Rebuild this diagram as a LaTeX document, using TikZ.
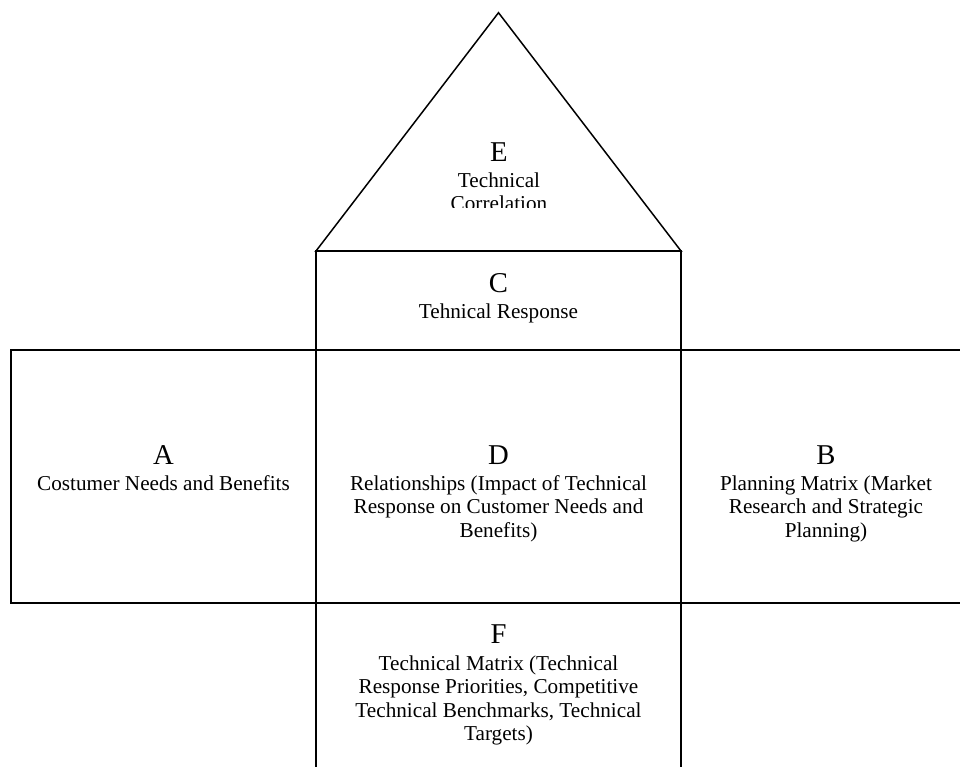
\documentclass[tikz,border=0pt]{standalone}
\usepackage{fontspec}
\setmainfont{Liberation Serif}
\newcommand\hqdesc[1]{\begin{tabular}[t]{@{}c@{}}#1\end{tabular}}
\tikzset{
  frame/.style={draw=black, line width=1.8pt},
  roof/.style={draw=black, line width=1.5pt, line join=miter},
  letter/.style={anchor=base, inner sep=0pt, font=\fontsize{28.7}{30}\selectfont},
  label/.style={anchor=base, inner sep=0pt, font=\fontsize{21.2}{23.5}\selectfont},
}
\begin{document}
\begin{tikzpicture}[x=1pt, y=-1pt]
\useasboundingbox (0,0) rectangle (960,767);
\fill[white] (0,0) rectangle (960,767);
\begin{scope}
\clip (0,0) rectangle (960,767);
% named corners
\coordinate (apex) at (498.5,12.7);
\coordinate (cl) at (316,251);
\coordinate (cr) at (681,251);
% roof E
\draw[roof] (apex) -- (cl) -- (cr) -- cycle;
% boxes
\draw[frame] (cl) rectangle (681,350);
\draw[frame] (11,350) rectangle (316,603);
\draw[frame] (316,350) rectangle (681,603);
\draw[frame] (681,350) rectangle (972,603);
\draw[frame] (316,603) rectangle (681,790);
\end{scope}
% E text (clipped text box)
\node[letter] (eL) at (499,162) {E};
\begin{scope}
\clip (330,100) rectangle (670,207.5);
\node[label] (eT) at (499,187.5) {\hqdesc{Technical\\Correlation}};
\end{scope}
% C
\node[letter] (cL) at (498.5,292) {C};
\node[label] (cT) at (498.5,318.5) {Tehnical Response};
% A
\node[letter] (aL) at (163.5,464) {A};
\node[label] (aT) at (163.5,490) {\hqdesc{Costumer Needs and Benefits}};
% D
\node[letter] (dL) at (498.5,464) {D};
\node[label] (dT) at (498.5,490) {\hqdesc{Relationships (Impact of Technical\\Response on Customer Needs and\\Benefits)}};
% B
\node[letter] (bL) at (826,464) {B};
\node[label] (bT) at (826,490) {\hqdesc{Planning Matrix (Market\\Research and Strategic\\Planning)}};
% F
\node[letter] (fL) at (498.5,643) {F};
\node[label] (fT) at (498.5,670) {\hqdesc{Technical Matrix (Technical\\Response Priorities, Competitive\\Technical Benchmarks, Technical\\Targets)}};
\end{tikzpicture}
\end{document}
